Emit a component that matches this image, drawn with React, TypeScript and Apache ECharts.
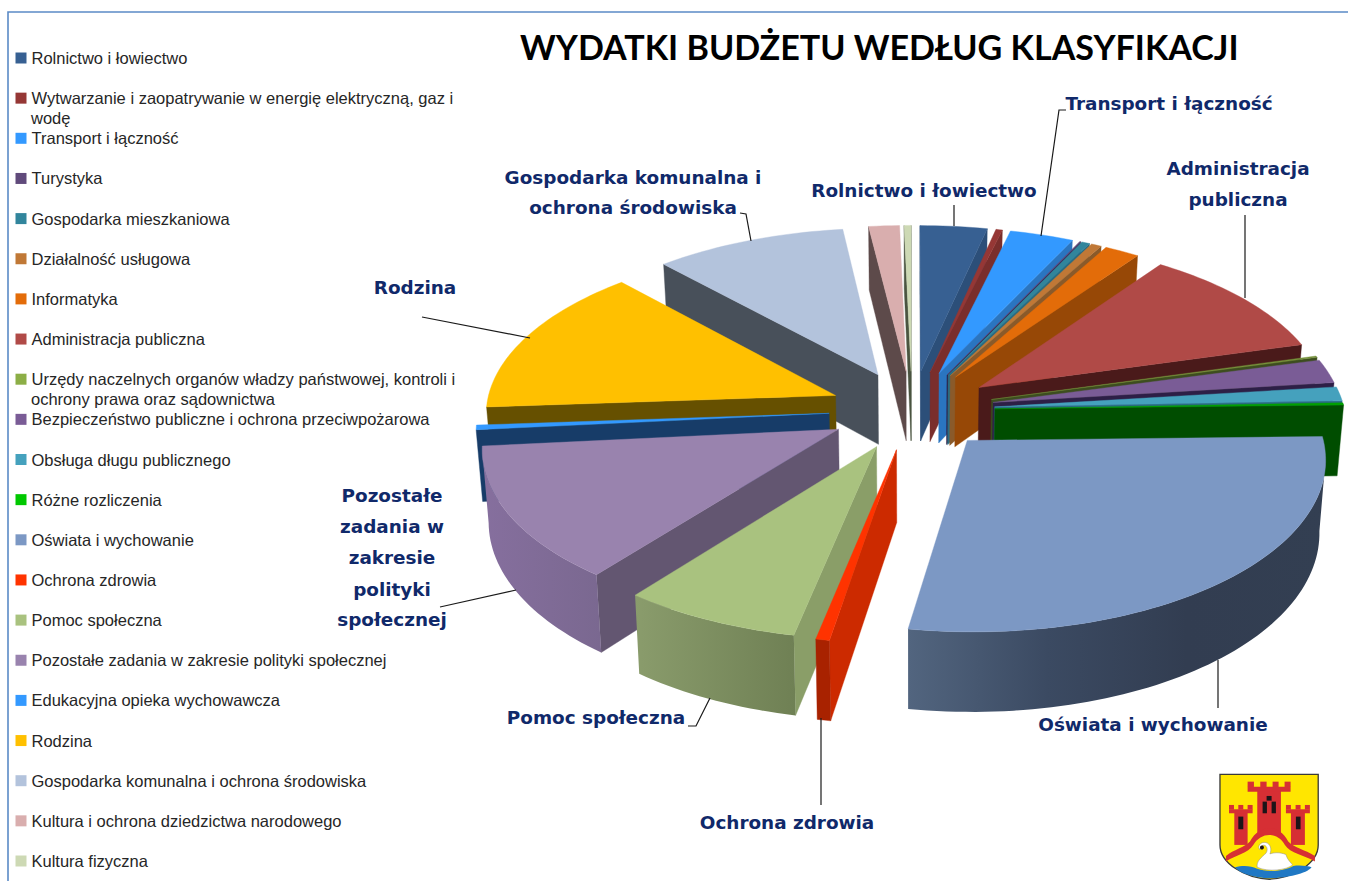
import React, { useEffect, useRef } from "react";
import * as echarts from "echarts";

const categories = [
  "Rolnictwo i łowiectwo",
  "Wytwarzanie i zaopatrywanie w energię elektryczną, gaz i\nwodę",
  "Transport i łączność",
  "Turystyka",
  "Gospodarka mieszkaniowa",
  "Działalność usługowa",
  "Informatyka",
  "Administracja publiczna",
  "Urzędy naczelnych organów władzy państwowej, kontroli i\nochrony prawa oraz sądownictwa",
  "Bezpieczeństwo publiczne i ochrona przeciwpożarowa",
  "Obsługa długu publicznego",
  "Różne rozliczenia",
  "Oświata i wychowanie",
  "Ochrona zdrowia",
  "Pomoc społeczna",
  "Pozostałe zadania w zakresie polityki społecznej",
  "Edukacyjna opieka wychowawcza",
  "Rodzina",
  "Gospodarka komunalna i ochrona środowiska",
  "Kultura i ochrona dziedzictwa narodowego",
  "Kultura fizyczna",
];
const values = [3.44, 0.33, 3.28, 0.06, 0.42, 0.53, 1.8, 10.78, 0.14, 2.28, 1.36, 0.22, 28.0, 0.56, 7.36, 12.89, 0.44, 14.31, 9.86, 1.58, 0.36];
const legendColors = ["#376092", "#953735", "#3399ff", "#604a7b", "#31859c", "#c07836", "#e36c09", "#b04a47", "#8cae46", "#7a5c96", "#45a1bd", "#00c800", "#7c98c4", "#ff3300", "#a9c27f", "#9983ae", "#3399ff", "#ffc000", "#b3c3dc", "#d9aeae", "#cdd9b4"];
const topColors = ["#376092", "#953735", "#3399ff", "#604a7b", "#31859c", "#c07836", "#e36c09", "#b04a47", "#76923c", "#7a5c96", "#45a1bd", "#00a000", "#7c98c4", "#ff3300", "#a9c27f", "#9983ae", "#3399ff", "#ffc000", "#b3c3dc", "#d9aeae", "#cdd9b4"];
const sideColors = ["#2c4f79", "#7a2e2c", "#2a75c0", "#2d1f46", "#2a6b80", "#8a5a2a", "#974806", "#4a1a1a", "#3d4d1f", "#2d1f46", "#2a6b80", "#004d00", "#2e3a4d", "#cc2a00", "#8a9e68", "#635671", "#173c68", "#665000", "#48505a", "#5d4a4a", "#4a5440"];
const rimColors: string[][] = [["#2c4f79"], ["#7a2e2c"], ["#2a75c0"], ["#2d1f46"], ["#2a6b80"], ["#8a5a2a"], ["#974806"], ["#4a1a1a"], ["#3d4d1f"], ["#2d1f46"], ["#2a6b80"], ["#004d00"], ["#52657f", "#3b4a62", "#323d51", "#333f52"], ["#a82200"], ["#8a9c6c", "#6f8054"], ["#866f9e", "#7a6890"], ["#173c68"], ["#665000"], ["#48505a"], ["#5d4a4a"], ["#4a5440"]];

const labelFont = "'DejaVu Sans'";
const labelColor = "#10296a";
const labels: [string, number, number][] = [
  ["Transport i łączność", 1169, 103],
  ["Administracja", 1238, 168],
  ["publiczna", 1238, 199],
  ["Rolnictwo i łowiectwo", 924, 190],
  ["Gospodarka komunalna i", 633, 177],
  ["ochrona środowiska", 633, 207],
  ["Rodzina", 415, 287],
  ["Pozostałe", 392, 495],
  ["zadania w", 392, 526],
  ["zakresie", 392, 557],
  ["polityki", 392, 589],
  ["społecznej", 392, 619],
  ["Pomoc społeczna", 596, 717],
  ["Ochrona zdrowia", 787, 822],
  ["Oświata i wychowanie", 1153, 724],
];
const leaders: [number, number][][] = [
  [[954, 205], [954, 226]],
  [[1066, 110], [1059, 110], [1041, 236]],
  [[1245, 215], [1245, 298]],
  [[740, 213], [746, 214], [751, 241]],
  [[422, 317], [530, 338]],
  [[440, 607], [516, 590]],
  [[688, 726], [696, 726], [710, 698]],
  [[821, 718], [821, 805]],
  [[1218, 660], [1218, 708]],
];

const CX = 912;
const CY = 410;
const RX = 350;
const RY = 166.9;
const PERSP = 0.0958;
const EXPLODE = 0.237;
const DEPTH = 71;
const BOTTOM_SHRINK = 0.985;

const total = values.reduce((a, b) => a + b, 0);
const starts: number[] = [];
values.reduce((acc, v, i) => {
  starts[i] = acc;
  return acc + v;
}, 0);

function project(u: number, v: number, lower: boolean): number[] {
  const s = 1 / (1 - PERSP * v);
  const x = RX * u * s;
  const y = CY + RY * v * s;
  return lower ? [CX + x * BOTTOM_SHRINK, y + DEPTH * s] : [CX + x, y];
}

function renderSlice(i: number, value: number) {
  const a0 = (starts[i] / total) * Math.PI * 2;
  const a1 = a0 + (value / total) * Math.PI * 2;
  const mid = (a0 + a1) / 2;
  const ox = EXPLODE * Math.sin(mid);
  const oy = -EXPLODE * Math.cos(mid);
  const steps = Math.max(2, Math.ceil((a1 - a0) / 0.025));
  const rim: number[][] = [];
  for (let k = 0; k <= steps; k++) {
    const t = a0 + ((a1 - a0) * k) / steps;
    rim.push([ox + Math.sin(t), oy - Math.cos(t)]);
  }
  const top = rim.map((p) => project(p[0], p[1], false));
  const bot = rim.map((p) => project(p[0], p[1], true));
  const tipT = project(ox, oy, false);
  const tipB = project(ox, oy, true);
  const children: any[] = [];
  const poly = (points: number[][], fill: any) => ({ type: "polygon", shape: { points }, style: { fill, stroke: typeof fill === "string" ? fill : undefined, lineWidth: 0.4 } });
  if (top[0][0] < tipT[0]) children.push(poly([tipT, top[0], bot[0], tipB], sideColors[i]));
  const n = top.length - 1;
  if (tipT[0] < top[n][0]) children.push(poly([top[n], tipT, tipB, bot[n]], sideColors[i]));
  const vis: number[] = [];
  for (let k = 0; k <= n; k++) {
    if ((k < n && top[k + 1][0] < top[k][0]) || (k > 0 && top[k][0] < top[k - 1][0])) vis.push(k);
  }
  if (vis.length > 1) {
    const pts = vis.map((k) => top[k]).concat(vis.slice().reverse().map((k) => bot[k]));
    const stops = rimColors[i];
    const fill = stops.length > 1
      ? new echarts.graphic.LinearGradient(0, 0, 1, 0, stops.map((color, j) => ({ offset: j / (stops.length - 1), color })))
      : stops[0];
    children.push(poly(pts, fill));
  }
  children.push(poly([tipT, ...top], topColors[i]));
  return { type: "group", children };
}

const midOf = (i: number) => ((starts[i] + values[i] / 2) / total) * Math.PI * 2;
const drawOrder = categories.map((_, i) => i).sort((p, q) => -Math.cos(midOf(p)) + Math.cos(midOf(q)));

const shieldPath = "M60,43 H355 V255 C355,310 280,355 208,358 C135,355 60,310 60,255 Z";
const seaPath = "M105,322 C130,315 155,318 170,326 C200,338 250,335 280,318 C300,315 325,318 335,322 C320,342 260,354 208,355 C165,354 120,342 105,322 Z";
const archPath = "M78,288 C100,270 135,262 150,245 C165,215 190,205 208,205 C228,205 250,215 265,245 C280,262 315,270 345,288 L345,305 C315,285 270,280 255,255 C245,235 225,225 208,225 C190,225 172,235 160,255 C145,280 105,285 78,305 Z";
const swanPath = "M172,322 C168,305 185,292 198,280 C206,268 200,255 190,256 C184,257 182,262 180,270 L176,262 C178,250 188,246 198,248 C212,252 216,268 210,282 C220,278 240,276 258,284 C262,300 275,310 278,315 C262,330 205,338 172,322 Z";
echarts.graphic.registerShape("coaShield", echarts.graphic.extendPath(shieldPath, {}));
echarts.graphic.registerShape("coaSea", echarts.graphic.extendPath(seaPath, {}));
echarts.graphic.registerShape("coaArch", echarts.graphic.extendPath(archPath, {}));
echarts.graphic.registerShape("coaSwan", echarts.graphic.extendPath(swanPath, {}));

function logoChildren() {
  const red = "#d62f34";
  const black = "#1c1418";
  const rect = (x: number, y: number, w: number, h: number, fill: string) => ({ type: "rect", shape: { x, y, width: w, height: h }, style: { fill } });
  return [
    { type: "coaShield", style: { fill: "#ffe600", stroke: "#3a3a3a", lineWidth: 4 } },
    { type: "coaSea", style: { fill: "#1f78c4" } },
    rect(103, 155, 40, 100, red),
    rect(87, 148, 71, 12, red),
    rect(87, 135, 15, 14, red),
    rect(115, 135, 15, 14, red),
    rect(143, 135, 15, 14, red),
    rect(273, 155, 42, 100, red),
    rect(258, 148, 72, 12, red),
    rect(258, 135, 15, 14, red),
    rect(287, 135, 15, 14, red),
    rect(315, 135, 15, 14, red),
    rect(172, 90, 71, 130, red),
    rect(143, 80, 129, 15, red),
    rect(143, 65, 19, 16, red),
    rect(181, 65, 19, 16, red),
    rect(218, 65, 18, 16, red),
    rect(254, 65, 18, 16, red),
    { type: "coaArch", style: { fill: red } },
    rect(188, 125, 13, 35, black),
    rect(215, 125, 13, 35, black),
    rect(200, 108, 15, 14, black),
    rect(115, 170, 15, 38, black),
    rect(288, 170, 14, 38, black),
    { type: "coaSwan", style: { fill: "#ffffff", stroke: "#8a8a8a", lineWidth: 1.5 } },
    { type: "circle", shape: { cx: 186, cy: 263, r: 6 }, style: { fill: black } },
  ];
}

export default function App() {
  const ref = useRef<HTMLDivElement>(null);
  useEffect(() => {
    const chart = echarts.init(ref.current!, undefined, { renderer: "svg" });
    const series = drawOrder.map((i) => ({
      type: "custom",
      name: categories[i],
      coordinateSystem: "none",
      silent: true,
      itemStyle: { color: legendColors[i] },
      data: [[values[i]]],
      renderItem: (_p: any, api: any) => renderSlice(i, api.value(0)),
    }));
    const secondLines = categories
      .map((c, i) => ({ line: c.split("\n")[1], i }))
      .filter((d) => d.line)
      .map((d) => ({
        type: "text",
        z: 100,
        x: 31,
        y: 58 + d.i * 40.15 + 20,
        style: { text: d.line, font: "16.5px 'Liberation Sans'", fill: "#262626", textVerticalAlign: "middle" },
      }));
    const labelEls = labels.map(([text, x, y]) => ({
      type: "text",
      z: 100,
      x,
      y,
      style: { text, font: `bold 18.4px ${labelFont}`, fill: labelColor, textAlign: "center", textVerticalAlign: "middle" },
    }));
    const leaderEls = leaders.map((points) => ({
      type: "polyline",
      z: 99,
      shape: { points },
      style: { stroke: "#1a1a1a", lineWidth: 1.2, fill: "none" },
    }));
    chart.setOption({
      animation: false,
      backgroundColor: "#ffffff",
      title: {
        text: "WYDATKI BUDŻETU WEDŁUG KLASYFIKACJI",
        left: 520,
        top: 29,
        padding: 0,
        textStyle: { fontFamily: "Lato", fontWeight: "bold", fontSize: 34.1, color: "#000000" },
      },
      legend: {
        orient: "vertical",
        left: 15.5,
        top: 49.5,
        height: 830,
        padding: 0,
        selectedMode: false,
        icon: "rect",
        itemWidth: 11,
        itemHeight: 11,
        itemGap: 23.15,
        data: categories.map((name, i) => ({ name, itemStyle: { color: legendColors[i] } })),
        formatter: (name: string) => name.split("\n")[0],
        textStyle: { fontFamily: "Liberation Sans", fontSize: 16.5, color: "#262626", lineHeight: 16 },
      },
      series,
      graphic: [
        { type: "polyline", z: 90, shape: { points: [[1348, 12], [8, 12], [8, 881]] }, style: { stroke: "#5b8ac6", lineWidth: 1.6, fill: "none" } },
        ...secondLines,
        ...leaderEls,
        ...labelEls,
        { type: "group", z: 100, x: 1200, y: 760, scaleX: 1 / 3, scaleY: 1 / 3, children: logoChildren() },
      ],
    });
    return () => chart.dispose();
  }, []);
  return <div ref={ref} style={{ position: "fixed", left: 0, top: 0, width: 1348, height: 883 }} />;
}
